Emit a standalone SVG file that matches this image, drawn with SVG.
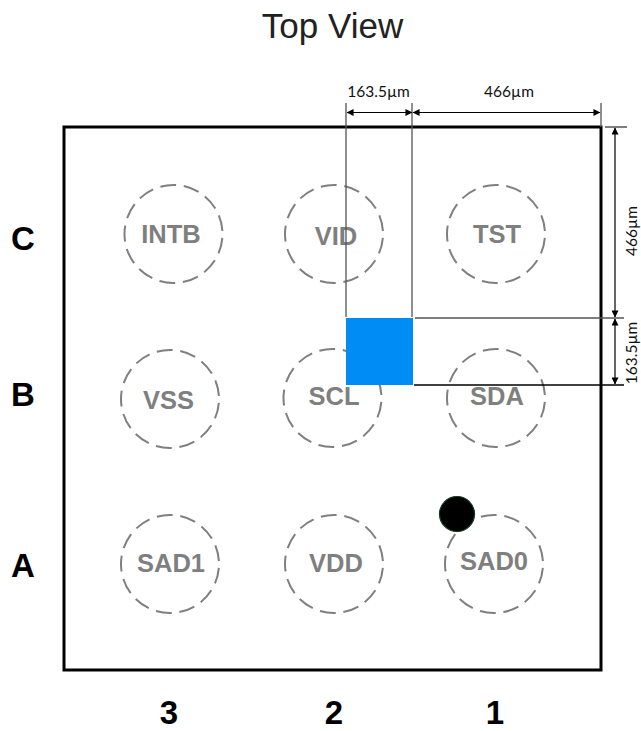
<svg xmlns="http://www.w3.org/2000/svg" width="641" height="731" viewBox="0 0 641 731">
<style>
text{font-family:"Liberation Sans",Arial,sans-serif}
.ball{fill:none;stroke:#7f7f7f;stroke-width:2;stroke-dasharray:16 7.69;stroke-dashoffset:-4}
.pin{font-size:25.5px;font-weight:bold;fill:#7f7f7f;text-anchor:middle}
.axis{font-size:33px;font-weight:bold;fill:#000;text-anchor:middle}
.dim{font-family:Lato,"Liberation Sans",sans-serif;font-size:15.5px;fill:#111;text-anchor:middle}
.ext{stroke:#555;stroke-width:1.3;fill:none}
.ar{stroke:#000;stroke-width:1.2;fill:none;marker-start:url(#a);marker-end:url(#a)}
</style>
<defs><marker id="a" viewBox="0 0 8 8" refX="7.5" refY="4" markerWidth="8" markerHeight="7" orient="auto-start-reverse" markerUnits="userSpaceOnUse"><path d="M0 0L8 4L0 8Z" fill="#000"/></marker></defs>
<rect width="641" height="731" fill="#fff"/>
<text x="332.500" y="38" font-size="35" text-anchor="middle" fill="#222">Top View</text>
<g id="package"><rect x="64" y="127" width="537" height="543" fill="none" stroke="#000" stroke-width="3"/></g>
<g id="ball-c3"><circle class="ball" cx="173.500" cy="234" r="49"/><text class="pin" x="171" y="243">INTB</text></g>
<g id="ball-c2"><circle class="ball" cx="334" cy="234" r="49"/><text class="pin" x="336" y="245">VID</text></g>
<g id="ball-c1"><circle class="ball" cx="496" cy="234" r="49"/><text class="pin" x="497" y="243">TST</text></g>
<g id="ball-b3"><circle class="ball" cx="170" cy="399" r="49"/><text class="pin" x="168.500" y="409">VSS</text></g>
<g id="ball-b2"><circle class="ball" cx="332.500" cy="398" r="49"/><text class="pin" x="334" y="405">SCL</text></g>
<g id="ball-b1"><circle class="ball" cx="496" cy="398" r="49"/><text class="pin" x="497" y="405">SDA</text></g>
<g id="ball-a3"><circle class="ball" cx="170" cy="564" r="49"/><text class="pin" x="171" y="572">SAD1</text></g>
<g id="ball-a2"><circle class="ball" cx="334" cy="564" r="49"/><text class="pin" x="336" y="572">VDD</text></g>
<g id="ball-a1"><circle class="ball" cx="494" cy="564" r="49"/><text class="pin" x="494" y="570">SAD0</text></g>
<g id="pin1-marker"><circle cx="457" cy="514" r="17.500" fill="#000" stroke="#0f3d24" stroke-width="1.2"/></g>
<g id="blue-pad"><rect x="346" y="318" width="67" height="67" fill="#008cf5"/></g>
<g id="connectors">
<path class="ext" d="M346 103V317M412 103V317M601 103V127"/>
<path class="ext" d="M605 127H627M415 318H624"/>
<path d="M414 385H624" stroke="#000" stroke-width="1.3"/>
<path class="ar" d="M347 112.500H412"/>
<path class="ar" d="M413 112.500H600"/>
<path class="ar" d="M615 128V317"/>
<path class="ar" d="M615 319V384"/>
</g>
<g id="dimensions">
<text class="dim" x="378.500" y="97">163.5µm</text>
<text class="dim" x="509" y="97">466µm</text>
<text class="dim" transform="translate(637 231) rotate(-90)">466µm</text>
<text class="dim" transform="translate(637 353) rotate(-90)">163.5µm</text>
</g>
<g id="axis-labels">
<text class="axis" x="23" y="250">C</text>
<text class="axis" x="23" y="406">B</text>
<text class="axis" x="23" y="577">A</text>
<text class="axis" x="169" y="724">3</text>
<text class="axis" x="334" y="724">2</text>
<text class="axis" x="495" y="724">1</text>
</g>
</svg>
